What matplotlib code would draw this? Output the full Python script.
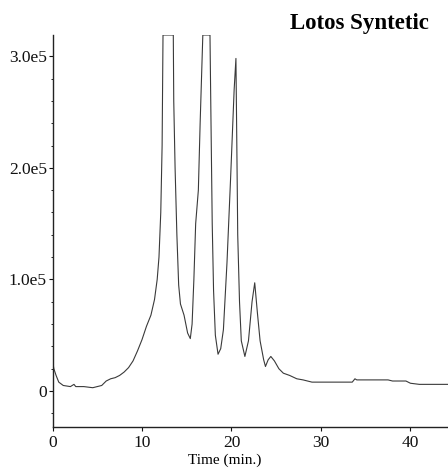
import matplotlib
matplotlib.use("Agg")
import matplotlib.pyplot as plt
from matplotlib.ticker import FixedLocator, MultipleLocator

# Retention time (min) and detector signal (units of 1e5)
time_min = [0.0, 0.05, 0.15, 0.4, 0.7, 1.2, 2.0, 2.4, 2.6, 3.5, 4.5, 5.5, 6.0, 6.5, 7.0,
            7.5, 8.0, 8.5, 9.0, 9.5, 10.0, 10.5, 11.0, 11.4, 11.7, 11.9, 12.1, 12.25,
            12.35, 13.5, 13.55, 13.7, 13.9, 14.1, 14.3, 14.7, 15.1, 15.4, 15.6, 15.8,
            16.0, 16.3, 16.5, 16.8, 17.6, 17.7, 17.85, 18.0, 18.2, 18.5, 18.8, 19.1,
            19.5, 19.9, 20.3, 20.5, 20.6, 20.7, 20.9, 21.1, 21.5, 21.9, 22.3, 22.6,
            22.9, 23.2, 23.6, 23.8, 24.1, 24.4, 24.8, 25.3, 25.8, 26.5, 27.3, 28.0,
            29.0, 33.5, 33.8, 34.0, 37.5, 38.0, 39.5, 40.0, 41.0, 44.2]
signal_e5 = [0.40, 0.25, 0.20, 0.14, 0.08, 0.05, 0.04, 0.06, 0.04, 0.04, 0.03, 0.05, 0.09,
             0.11, 0.12, 0.14, 0.17, 0.21, 0.27, 0.36, 0.46, 0.58, 0.68, 0.82, 1.0, 1.2,
             1.6, 2.2, 3.19, 3.19, 2.6, 2.0, 1.4, 0.95, 0.78, 0.68, 0.52, 0.47, 0.6, 1.0,
             1.5, 1.8, 2.4, 3.19, 3.19, 2.5, 1.5, 0.9, 0.5, 0.33, 0.38, 0.55, 1.15, 1.9,
             2.7, 2.98, 2.2, 1.4, 0.8, 0.45, 0.31, 0.45, 0.8, 0.97, 0.7, 0.45, 0.28, 0.22,
             0.28, 0.31, 0.27, 0.20, 0.16, 0.14, 0.11, 0.10, 0.08, 0.08, 0.11, 0.10, 0.10,
             0.09, 0.09, 0.07, 0.06, 0.06]

x_ticks = [0, 10, 20, 30, 40]
y_ticks = [0, 1.0e5, 2.0e5, 3.0e5]
y_tick_labels = ["0", "1.0e5", "2.0e5", "3.0e5"]
title = "Lotos Syntetic"
x_label = "Time (min.)"

plt.rcParams["font.family"] = ["Liberation Serif", "DejaVu Serif"]

fig = plt.figure(figsize=(4.48, 4.69), dpi=100)
ax = fig.add_axes([52.5 / 448, 1 - 427 / 469, 1 - 52.5 / 448, (427 - 35) / 469])

ax.plot(time_min, [v * 1e5 for v in signal_e5], color="#3a3a3a", lw=0.8)

ax.set_xlim(0, 44.2)
ax.set_ylim(-0.322e5, 3.19e5)

for s in ("top", "right"):
    ax.spines[s].set_visible(False)
for s in ("left", "bottom"):
    ax.spines[s].set_linewidth(1.0)
    ax.spines[s].set_color("#222222")

ax.xaxis.set_major_locator(FixedLocator(x_ticks))
ax.set_xticklabels([str(t) for t in x_ticks])
ax.yaxis.set_major_locator(FixedLocator(y_ticks))
ax.set_yticklabels(y_tick_labels)
ax.yaxis.set_minor_locator(MultipleLocator(0.2e5))
ax.tick_params(axis="both", which="major", direction="out", length=3, width=0.8,
               labelsize=12.5, colors="#111111")
ax.tick_params(axis="x", which="major", pad=3)
ax.tick_params(axis="y", which="major", pad=1)
ax.tick_params(axis="y", which="minor", direction="out", length=1.5, width=0.6)

ax.set_xlabel(x_label, fontsize=11)
ax.xaxis.set_label_coords((225 - 52.5) / (448 - 52.5), -0.068)

fig.text(429 / 448, 1 - 23 / 469, title, ha="right", va="center",
         fontsize=16.5, fontweight="bold")

fig.savefig("out.png", dpi=100)
